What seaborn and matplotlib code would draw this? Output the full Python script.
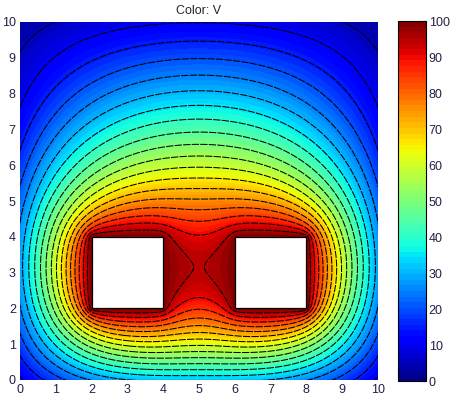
import numpy as np
import matplotlib
matplotlib.use("Agg")
import matplotlib.pyplot as plt
import seaborn as sns

# ---- problem data ----
x_range = [0, 10]
y_range = [0, 10]
grounded_margin = 1.05         # grounded outer boundary lies this far outside the window
outer_potential = 0.0
electrode_potential = 100.0
electrodes_x = [[2, 4], [6, 8]]
electrodes_y = [[2, 4], [2, 4]]
contour_levels = list(range(5, 100, 5))
color_limits = [0, 100]
tick_values = list(range(0, 11))
cbar_ticks = list(range(0, 101, 10))
title_text = "Color: V"

# ---- solve Laplace equation for V on a grid ----
h = 0.05
xs = np.arange(x_range[0] - grounded_margin, x_range[1] + grounded_margin + h / 2, h)
ys = np.arange(y_range[0] - grounded_margin, y_range[1] + grounded_margin + h / 2, h)
X, Y = np.meshgrid(xs, ys)
inside = np.zeros_like(X, dtype=bool)
for (x0, x1), (y0, y1) in zip(electrodes_x, electrodes_y):
    inside |= (X >= x0 - 1e-9) & (X <= x1 + 1e-9) & (Y >= y0 - 1e-9) & (Y <= y1 + 1e-9)
V = np.full_like(X, outer_potential)
V[inside] = electrode_potential
fixed = inside.copy()
fixed[0, :] = fixed[-1, :] = fixed[:, 0] = fixed[:, -1] = True
ii, jj = np.indices(X.shape)
red = ((ii + jj) % 2 == 0) & ~fixed
black = ((ii + jj) % 2 == 1) & ~fixed
omega = 1.975
nb = np.zeros_like(V)
for it in range(3000):
    for m in (red, black):
        nb[1:-1, 1:-1] = 0.25 * (V[2:, 1:-1] + V[:-2, 1:-1] + V[1:-1, 2:] + V[1:-1, :-2])
        V[m] = V[m] + omega * (nb[m] - V[m])

# ---- plot ----
sns.set_theme(style="white")
plt.rcParams['font.family'] = ['Liberation Sans', 'DejaVu Sans']
fig = plt.figure(figsize=(4.53, 3.99), dpi=100)
ax = fig.add_axes([20/453, 19/399, 358/453, 358/399])
cax = fig.add_axes([398/453, 18/399, 28/453, 360/399])

fill_levels = np.linspace(color_limits[0], color_limits[1], 65)
cf = ax.contourf(X, Y, V, levels=fill_levels, cmap="jet", vmin=0, vmax=100)
ax.contour(X, Y, V, levels=contour_levels, colors="black", linewidths=0.75,
           linestyles=[(0, (7, 1.2))])
for (x0, x1), (y0, y1) in zip(electrodes_x, electrodes_y):
    ax.add_patch(plt.Rectangle((x0, y0), x1 - x0, y1 - y0, facecolor="white",
                               edgecolor="black", linewidth=0.9, zorder=3))
ax.set_xlim(x_range)
ax.set_ylim(y_range)
ax.set_xticks(tick_values)
ax.set_yticks(tick_values)
ax.tick_params(length=0, labelsize=9, pad=3, colors="#222244")
for s in ax.spines.values():
    s.set_visible(False)
ax.set_title(title_text, fontsize=9, pad=6)

cb = fig.colorbar(cf, cax=cax, ticks=cbar_ticks)
cb.outline.set_edgecolor("black")
cb.outline.set_linewidth(0.8)
cax.tick_params(direction="in", length=3, labelsize=9, pad=2, labelcolor="#222244",
                color="black", width=0.8)

fig.savefig("out.png", dpi=100)
